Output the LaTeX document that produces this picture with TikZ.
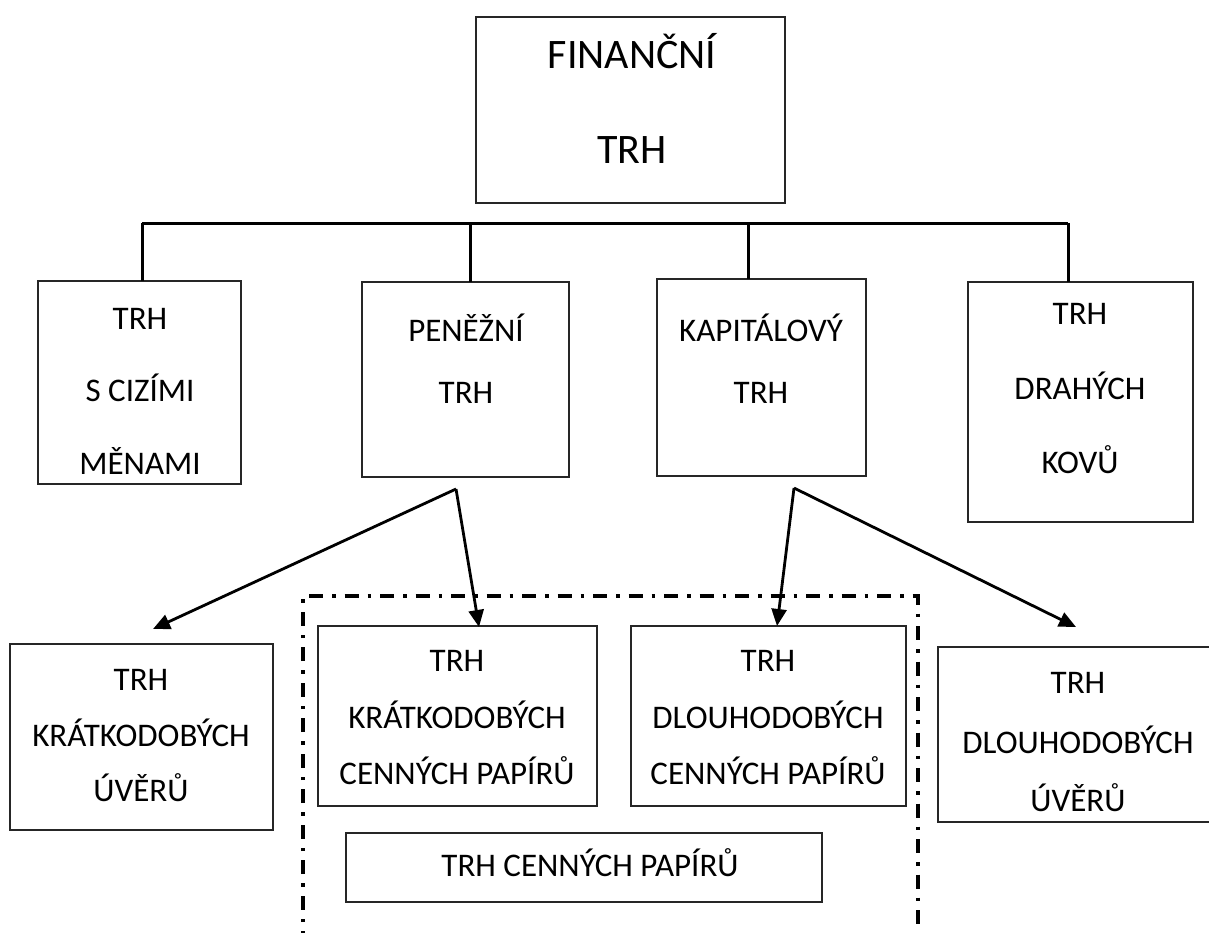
\documentclass[tikz,border=0pt]{standalone}
\usepackage{fontspec}
\setmainfont{Carlito}
\usetikzlibrary{arrows.meta}

\tikzset{
  box/.style={draw=black!85, line width=1.6pt, rectangle, inner sep=0pt, outer sep=0pt},
  txt/.style={anchor=base, inner sep=0pt, font=\fontsize{33}{33}\selectfont},
  bigtxt/.style={anchor=base, inner sep=0pt, font=\fontsize{42}{42}\selectfont},
  tree/.style={line width=3pt},
  arr/.style={line width=2.8pt, -{Triangle[length=17pt,width=15pt]}},
  dashdotline/.style={line width=3.3pt, dash pattern=on 14pt off 9pt on 3.5pt off 9pt}
}

\begin{document}
\begin{tikzpicture}[x=1pt,y=-1pt]
\useasboundingbox (0,0) rectangle (1209,932);
\clip (0,0) rectangle (1209,932);

% top box
\node[box, minimum width=309pt, minimum height=186pt] (fin) at (630.5,110) {};
\node[bigtxt] (fin1) at (632,68) {FINANČNÍ};
\node[bigtxt] (fin2) at (632,163) {TRH};

% second row
\node[box, minimum width=203pt, minimum height=203pt] (cm) at (139.5,382.5) {};
\node[txt] (cm1) at (140,329) {TRH};
\node[txt] (cm2) at (140,401) {S CIZÍMI};
\node[txt] (cm3) at (140,474) {MĚNAMI};

\node[box, minimum width=207pt, minimum height=195pt] (pt) at (465.5,379.5) {};
\node[txt] (pt1) at (466,341) {PENĚŽNÍ};
\node[txt] (pt2) at (466,403) {TRH};

\node[box, minimum width=209pt, minimum height=197pt] (kt) at (761.5,377.5) {};
\node[txt] (kt1) at (761,341) {KAPITÁLOVÝ};
\node[txt] (kt2) at (761,403) {TRH};

\node[box, minimum width=225pt, minimum height=240pt] (dk) at (1080.5,402) {};
\node[txt] (dk1) at (1080,324) {TRH};
\node[txt] (dk2) at (1080,399) {DRAHÝCH};
\node[txt] (dk3) at (1080,473) {KOVŮ};

% horizontal bar with drops
\coordinate (d1) at (142,223);
\coordinate (d2) at (470,223);
\coordinate (d3) at (748,223);
\coordinate (d4) at (1068,223);
\draw[tree] (d1) -- (d4);
\draw[tree] (d1) -- (d1 |- cm.north);
\draw[tree] (d2) -- (d2 |- pt.north);
\draw[tree] (d3) -- (d3 |- kt.north);
\draw[tree] (d4) -- (d4 |- dk.north);

% securities market frame
\draw[dashdotline] (303,945) -- (303,596) -- (918,596) -- (918,945);

% third row
\node[box, minimum width=263pt, minimum height=186pt] (ku) at (141.5,737) {};
\node[txt] (ku1) at (141,690) {TRH};
\node[txt] (ku2) at (141,746) {KRÁTKODOBÝCH};
\node[txt] (ku3) at (141,801) {ÚVĚRŮ};

\node[box, minimum width=279pt, minimum height=180pt] (kc) at (457.5,716) {};
\node[txt] (kc1) at (457,671) {TRH};
\node[txt] (kc2) at (457,728) {KRÁTKODOBÝCH};
\node[txt] (kc3) at (457,784) {CENNÝCH PAPÍRŮ};

\node[box, minimum width=275pt, minimum height=180pt] (dc) at (768.5,716) {};
\node[txt] (dc1) at (768,671) {TRH};
\node[txt] (dc2) at (768,728) {DLOUHODOBÝCH};
\node[txt] (dc3) at (768,784) {CENNÝCH PAPÍRŮ};

\node[box, minimum width=278pt, minimum height=175pt] (du) at (1077,734.5) {};
\node[txt] (du1) at (1078,693) {TRH};
\node[txt] (du2) at (1078,753) {DLOUHODOBÝCH};
\node[txt] (du3) at (1078,811) {ÚVĚRŮ};

\node[box, minimum width=476pt, minimum height=69pt] (cp) at (584,867.5) {};
\node[txt] (cp1) at (590,876) {TRH CENNÝCH PAPÍRŮ};

% arrows
\coordinate (pa) at (456,489);
\coordinate (ka) at (794,488);
\coordinate (t1) at (153,629);
\coordinate (t2) at (479,627);
\coordinate (t3) at (777,626);
\coordinate (t4) at (1076,627);
\draw[arr] (pa) -- (t1);
\draw[arr] (pa) -- (t2);
\draw[arr] (ka) -- (t3);
\draw[arr] (ka) -- (t4);
\end{tikzpicture}
\end{document}
